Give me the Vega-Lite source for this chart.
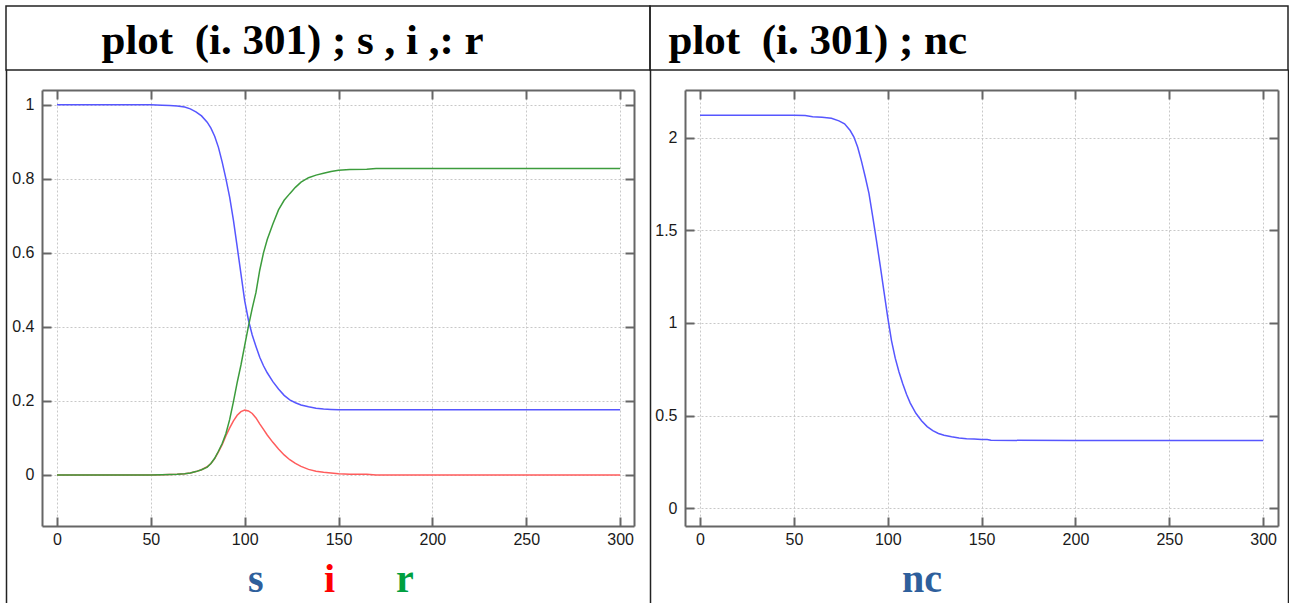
{
  "$schema": "https://vega.github.io/schema/vega-lite/v6.json",
  "background": "white",
  "padding": {"left": 5, "top": 5, "right": 0, "bottom": 0},
  "spacing": 18,
  "config": {
    "view": {"stroke": null},
    "axis": {
      "domainColor": "#666666", "domainWidth": 2,
      "tickColor": "#666666", "tickWidth": 2, "tickSize": -9,
      "labelPadding": 17, "labelFont": "Liberation Sans", "labelFontSize": 16, "labelColor": "#1a1a1a",
      "gridColor": "#c8c8c8", "gridDash": [2, 2], "gridWidth": 1
    }
  },
  "resolve": {"scale": {"color": "independent"}},
  "vconcat": [
    {
      "hconcat": [
        {
          "width": 644, "height": 64,
          "view": {"stroke": "#222222", "strokeWidth": 1.5},
          "data": {"values": [{"h": 0.5}]},
          "mark": {"type": "point", "opacity": 0},
          "encoding": {
            "x": {"field": "h", "type": "quantitative", "scale": {"domain": [0, 1]},
              "axis": {"orient": "top", "domain": false, "ticks": false, "labels": false, "grid": false,
                "title": "plot\u00a0 (i. 301) ; s , i ,: r", "titleX": 95, "titleY": 47, "titleAlign": "left", "titleBaseline": "alphabetic", "titleAngle": 0,
                "titleFont": "Liberation Serif", "titleFontWeight": "bold", "titleFontSize": 43, "titleColor": "#000000", "titleLimit": 1000}}
          }
        },
        {
          "width": 638, "height": 64,
          "view": {"stroke": "#222222", "strokeWidth": 1.5},
          "data": {"values": [{"h": 0.5}]},
          "mark": {"type": "point", "opacity": 0},
          "encoding": {
            "x": {"field": "h", "type": "quantitative", "scale": {"domain": [0, 1]},
              "axis": {"orient": "top", "domain": false, "ticks": false, "labels": false, "grid": false,
                "title": "plot\u00a0 (i. 301) ; nc", "titleX": 18, "titleY": 47, "titleAlign": "left", "titleBaseline": "alphabetic", "titleAngle": 0,
                "titleFont": "Liberation Serif", "titleFontWeight": "bold", "titleFontSize": 43, "titleColor": "#000000", "titleLimit": 1000}}
          }
        }
      ],
      "spacing": 0,
      "bounds": "flush"
    },
    {
      "hconcat": [
        {
          "width": 36, "height": 436,
          "data": {"values": [{"v": 0.5}]},
          "mark": {"type": "point", "opacity": 0},
          "encoding": {"y": {"field": "v", "type": "quantitative", "scale": {"domain": [0, 1], "range": [516, -21]}, "axis": {"orient": "left", "domain": true, "domainColor": "#222222", "domainWidth": 1.5, "ticks": false, "labels": false, "grid": false, "title": null}}}
        },
        {
          "width": 592, "height": 436,
          "data": {"values": [
            {"t": 0, "s": 1, "i": 0, "r": 0},
            {"t": 20, "s": 1, "i": 0, "r": 0},
            {"t": 40, "s": 1, "i": 0, "r": 0},
            {"t": 50, "s": 1, "i": 0, "r": 0},
            {"t": 56, "s": 0.999, "i": 0.0006, "r": 0.0005},
            {"t": 60, "s": 0.998, "i": 0.001, "r": 0.001},
            {"t": 64, "s": 0.997, "i": 0.0015, "r": 0.0015},
            {"t": 68, "s": 0.994, "i": 0.003, "r": 0.003},
            {"t": 71, "s": 0.989, "i": 0.005, "r": 0.005},
            {"t": 74, "s": 0.981, "i": 0.009, "r": 0.009},
            {"t": 77, "s": 0.97, "i": 0.014, "r": 0.014},
            {"t": 80, "s": 0.953, "i": 0.022, "r": 0.021},
            {"t": 82, "s": 0.937, "i": 0.031, "r": 0.031},
            {"t": 84, "s": 0.915, "i": 0.044, "r": 0.045},
            {"t": 86, "s": 0.885, "i": 0.062, "r": 0.064},
            {"t": 88, "s": 0.845, "i": 0.082, "r": 0.085},
            {"t": 90, "s": 0.8, "i": 0.106, "r": 0.112},
            {"t": 92, "s": 0.75, "i": 0.127, "r": 0.15},
            {"t": 94, "s": 0.688, "i": 0.146, "r": 0.198},
            {"t": 96, "s": 0.616, "i": 0.161, "r": 0.25},
            {"t": 98, "s": 0.543, "i": 0.171, "r": 0.297},
            {"t": 100, "s": 0.47, "i": 0.175, "r": 0.35},
            {"t": 102, "s": 0.418, "i": 0.173, "r": 0.402},
            {"t": 104, "s": 0.378, "i": 0.166, "r": 0.45},
            {"t": 106, "s": 0.347, "i": 0.154, "r": 0.493},
            {"t": 108, "s": 0.318, "i": 0.138, "r": 0.553},
            {"t": 110, "s": 0.295, "i": 0.123, "r": 0.6},
            {"t": 112, "s": 0.276, "i": 0.108, "r": 0.636},
            {"t": 115, "s": 0.252, "i": 0.088, "r": 0.678},
            {"t": 118, "s": 0.232, "i": 0.07, "r": 0.716},
            {"t": 121, "s": 0.215, "i": 0.054, "r": 0.742},
            {"t": 124, "s": 0.203, "i": 0.041, "r": 0.76},
            {"t": 127, "s": 0.195, "i": 0.031, "r": 0.777},
            {"t": 130, "s": 0.189, "i": 0.023, "r": 0.791},
            {"t": 134, "s": 0.184, "i": 0.015, "r": 0.803},
            {"t": 138, "s": 0.18, "i": 0.01, "r": 0.81},
            {"t": 142, "s": 0.178, "i": 0.007, "r": 0.815},
            {"t": 146, "s": 0.177, "i": 0.005, "r": 0.82},
            {"t": 150, "s": 0.176, "i": 0.003, "r": 0.823},
            {"t": 156, "s": 0.176, "i": 0.002, "r": 0.825},
            {"t": 165, "s": 0.176, "i": 0.0015, "r": 0.826},
            {"t": 170, "s": 0.176, "i": 0, "r": 0.828},
            {"t": 200, "s": 0.176, "i": 0, "r": 0.828},
            {"t": 250, "s": 0.176, "i": 0, "r": 0.828},
            {"t": 300, "s": 0.176, "i": 0, "r": 0.828}
          ]},
          "transform": [{"fold": ["s", "i", "r"], "as": ["series", "value"]}],
          "layer": [
            {
              "mark": {"type": "line", "strokeWidth": 1.5},
              "encoding": {
                "x": {"field": "t", "type": "quantitative", "scale": {"domain": [-8, 307.4], "nice": false, "zero": false}, "axis": {"orient": "bottom", "values": [0, 50, 100, 150, 200, 250, 300], "labelPadding": 14, "title": null, "grid": true}},
                "y": {"field": "value", "type": "quantitative", "scale": {"domain": [-0.138, 1.04], "nice": false, "zero": false}, "axis": {"orient": "left", "values": [0, 0.2, 0.4, 0.6, 0.8, 1], "format": "~g", "title": null, "grid": true}},
                "color": {
                  "field": "series", "type": "nominal",
                  "scale": {"domain": ["s", "i", "r"], "range": ["#5656ff", "#ff5c5c", "#3c9c3c"]},
                  "legend": {
                    "orient": "none", "legendX": 166, "legendY": 470, "direction": "horizontal", "title": null,
                    "symbolSize": 0, "symbolStrokeWidth": 0, "symbolOpacity": 0, "labelOffset": 0, "columnPadding": 20, "padding": 0,
                    "labelFont": "Liberation Serif", "labelFontWeight": "bold", "labelFontSize": 40,
                    "encode": {"labels": {"update": {"fill": {"signal": "datum.value === 's' ? '#2e5f9c' : datum.value === 'i' ? '#ff0000' : '#00a040'"}}}}
                  }
                }
              }
            },
            {
              "mark": {"type": "point", "opacity": 0},
              "encoding": {
                "x": {"field": "t", "type": "quantitative", "axis": {"orient": "top", "values": [0, 50, 100, 150, 200, 250, 300], "labels": false, "grid": false, "title": null}},
                "y": {"field": "value", "type": "quantitative", "axis": {"orient": "right", "values": [0, 0.2, 0.4, 0.6, 0.8, 1], "labels": false, "grid": false, "title": null}}
              }
            }
          ],
          "resolve": {"axis": {"x": "independent", "y": "independent"}}
        },
        {
          "width": 51, "height": 436,
          "data": {"values": [{"v": 0.5}]},
          "mark": {"type": "point", "opacity": 0},
          "encoding": {"y": {"field": "v", "type": "quantitative", "scale": {"domain": [0, 1], "range": [516, -21]}, "axis": {"orient": "left", "offset": -16, "domain": true, "domainColor": "#222222", "domainWidth": 1.5, "ticks": false, "labels": false, "grid": false, "title": null}}}
        },
        {
          "width": 593, "height": 436,
          "data": {"values": [
            {"t": 0, "nc": 2.122},
            {"t": 50, "nc": 2.122},
            {"t": 56, "nc": 2.121},
            {"t": 60, "nc": 2.115},
            {"t": 65, "nc": 2.112},
            {"t": 70, "nc": 2.106},
            {"t": 74, "nc": 2.092},
            {"t": 77, "nc": 2.076},
            {"t": 80, "nc": 2.04},
            {"t": 82, "nc": 2.005},
            {"t": 84, "nc": 1.95},
            {"t": 86, "nc": 1.875},
            {"t": 88, "nc": 1.79},
            {"t": 90, "nc": 1.7},
            {"t": 92, "nc": 1.575},
            {"t": 94, "nc": 1.445},
            {"t": 96, "nc": 1.31},
            {"t": 98, "nc": 1.17},
            {"t": 100, "nc": 1.03},
            {"t": 102, "nc": 0.905},
            {"t": 104, "nc": 0.81},
            {"t": 106, "nc": 0.735},
            {"t": 108, "nc": 0.672},
            {"t": 110, "nc": 0.615},
            {"t": 112, "nc": 0.567},
            {"t": 115, "nc": 0.512},
            {"t": 118, "nc": 0.472},
            {"t": 121, "nc": 0.44},
            {"t": 124, "nc": 0.418},
            {"t": 127, "nc": 0.403},
            {"t": 130, "nc": 0.393},
            {"t": 134, "nc": 0.385},
            {"t": 138, "nc": 0.379},
            {"t": 142, "nc": 0.375},
            {"t": 146, "nc": 0.373},
            {"t": 150, "nc": 0.371},
            {"t": 153, "nc": 0.37},
            {"t": 155, "nc": 0.366},
            {"t": 200, "nc": 0.365},
            {"t": 250, "nc": 0.365},
            {"t": 300, "nc": 0.365}
          ]},
          "transform": [{"fold": ["nc"], "as": ["var", "value"]}],
          "layer": [
            {
              "mark": {"type": "line", "strokeWidth": 1.5},
              "encoding": {
                "x": {"field": "t", "type": "quantitative", "scale": {"domain": [-8, 307.9], "nice": false, "zero": false}, "axis": {"orient": "bottom", "values": [0, 50, 100, 150, 200, 250, 300], "labelPadding": 14, "title": null, "grid": true}},
                "y": {"field": "value", "type": "quantitative", "scale": {"domain": [-0.097, 2.259], "nice": false, "zero": false}, "axis": {"orient": "left", "values": [0, 0.5, 1, 1.5, 2], "format": "~g", "title": null, "grid": true}},
                "color": {
                  "field": "var", "type": "nominal",
                  "scale": {"domain": ["nc"], "range": ["#5656ff"]},
                  "legend": {
                    "orient": "none", "legendX": 177, "legendY": 470, "direction": "horizontal", "title": null,
                    "symbolSize": 0, "symbolStrokeWidth": 0, "symbolOpacity": 0, "labelOffset": 0, "padding": 0,
                    "labelFont": "Liberation Serif", "labelFontWeight": "bold", "labelFontSize": 40, "labelColor": "#2e5f9c"
                  }
                }
              }
            },
            {
              "mark": {"type": "point", "opacity": 0},
              "encoding": {
                "x": {"field": "t", "type": "quantitative", "axis": {"orient": "top", "values": [0, 50, 100, 150, 200, 250, 300], "labels": false, "grid": false, "title": null}},
                "y": {"field": "value", "type": "quantitative", "axis": {"orient": "right", "values": [0, 0.5, 1, 1.5, 2], "labels": false, "grid": false, "title": null}}
              }
            }
          ],
          "resolve": {"axis": {"x": "independent", "y": "independent"}}
        },
        {
          "width": 10, "height": 436,
          "data": {"values": [{"v": 0.5}]},
          "mark": {"type": "point", "opacity": 0},
          "encoding": {"y": {"field": "v", "type": "quantitative", "scale": {"domain": [0, 1], "range": [516, -21]}, "axis": {"orient": "right", "domain": true, "domainColor": "#222222", "domainWidth": 1.5, "ticks": false, "labels": false, "grid": false, "title": null}}}
        }
      ],
      "spacing": 0,
      "bounds": "flush",
      "resolve": {"scale": {"color": "independent"}}
    }
  ]
}
